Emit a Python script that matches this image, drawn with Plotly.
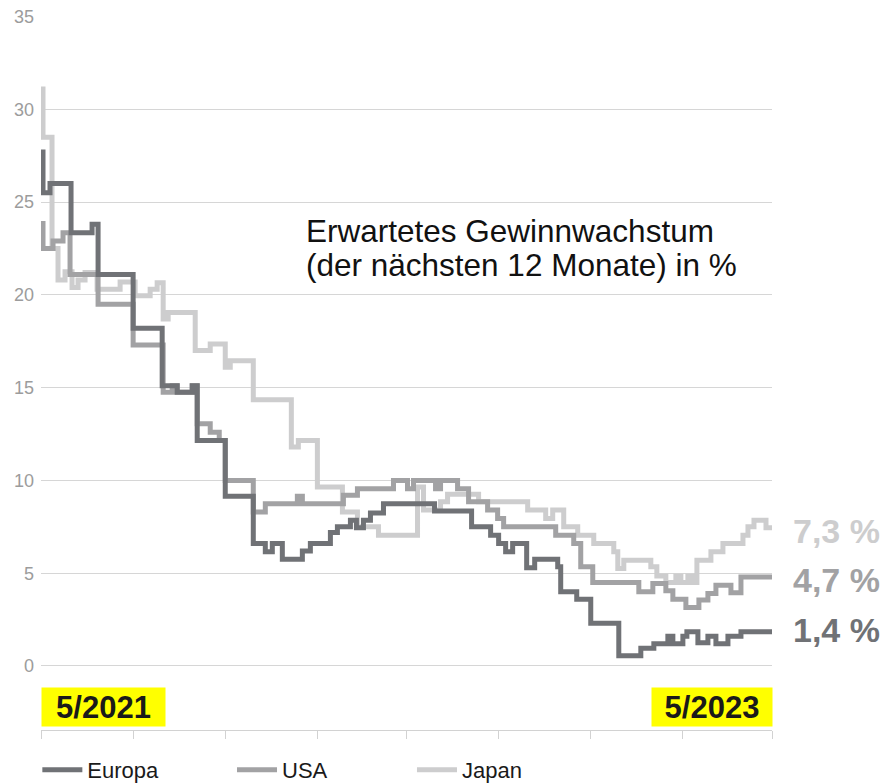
import plotly.graph_objects as go

# ---------------- data ----------------
europa_dates = [
    "2021-05-01", "2021-05-03", "2021-05-10", "2021-05-31", "2021-06-21", "2021-06-27",
    "2021-08-01", "2021-08-30", "2021-09-14", "2021-09-29", "2021-10-04", "2021-11-01",
    "2021-11-29", "2021-12-11", "2021-12-18", "2021-12-28", "2022-01-17", "2022-01-25",
    "2022-02-14", "2022-02-21", "2022-03-06", "2022-03-12", "2022-03-19", "2022-03-26",
    "2022-04-08", "2022-05-29", "2022-07-05", "2022-07-24", "2022-08-01", "2022-08-08",
    "2022-08-15", "2022-08-29", "2022-09-06", "2022-09-29", "2022-10-02", "2022-10-18",
    "2022-11-01", "2022-11-29", "2022-12-21", "2023-01-03", "2023-01-17", "2023-01-22",
    "2023-02-01", "2023-02-05", "2023-02-16", "2023-02-26", "2023-03-06", "2023-03-18",
    "2023-03-31", "2023-05-01",
]
europa_values = [
    27.7, 25.5, 26.0, 23.35, 23.8, 21.1,
    18.2, 15.1, 14.75, 15.1, 12.15, 9.15,
    6.6, 6.15, 6.6, 5.75, 6.2, 6.6,
    7.2, 7.5, 7.85, 7.45, 7.85, 8.25,
    8.75, 8.35, 7.5, 7.05, 6.6, 6.15,
    6.6, 5.3, 5.75, 5.35, 4.0, 3.6,
    2.3, 0.55, 0.95, 1.2, 1.6, 1.2,
    1.6, 1.85, 1.25, 1.6, 1.2, 1.6,
    1.85, 1.85,
]

usa_dates = [
    "2021-05-01", "2021-05-03", "2021-05-13", "2021-05-23", "2021-05-30", "2021-06-27",
    "2021-08-01", "2021-08-31", "2021-09-09", "2021-09-14", "2021-09-29", "2021-10-04",
    "2021-10-17", "2021-10-26", "2021-11-01", "2021-11-29", "2021-12-11", "2022-01-12",
    "2022-01-17", "2022-02-27", "2022-03-13", "2022-04-18", "2022-05-02", "2022-05-08",
    "2022-05-30", "2022-06-04", "2022-06-21", "2022-07-02", "2022-07-21", "2022-07-31",
    "2022-08-06", "2022-09-27", "2022-10-15", "2022-10-22", "2022-11-03", "2022-12-19",
    "2023-01-02", "2023-01-15", "2023-01-22", "2023-02-04", "2023-02-17", "2023-02-26",
    "2023-03-06", "2023-03-21", "2023-03-31", "2023-05-01",
]
usa_values = [
    23.85, 22.5, 22.9, 23.35, 21.1, 19.5,
    17.3, 14.75, 15.1, 14.75, 15.1, 13.05,
    12.6, 12.15, 10.0, 8.3, 8.75, 9.15,
    8.75, 9.2, 9.55, 10.0, 9.55, 10.0,
    9.55, 10.0, 9.55, 8.85, 8.4, 7.95,
    7.5, 7.05, 6.6, 5.35, 4.5, 4.0,
    4.45, 4.05, 3.6, 3.15, 3.55, 3.9,
    4.35, 3.95, 4.8, 4.8,
]

japan_dates = [
    "2021-05-01", "2021-05-03", "2021-05-12", "2021-05-18", "2021-05-25", "2021-06-01",
    "2021-06-07", "2021-06-14", "2021-06-26", "2021-07-19", "2021-08-03", "2021-08-18",
    "2021-08-25", "2021-08-31", "2021-09-05", "2021-10-02", "2021-10-17", "2021-11-01",
    "2021-11-06", "2021-11-29", "2022-01-06", "2022-01-13", "2022-02-01", "2022-02-26",
    "2022-03-13", "2022-04-03", "2022-05-12", "2022-05-18", "2022-06-04", "2022-06-11",
    "2022-07-12", "2022-08-30", "2022-09-17", "2022-09-24", "2022-10-05", "2022-10-19",
    "2022-11-04", "2022-11-24", "2022-11-28", "2022-12-04", "2022-12-31", "2023-01-06",
    "2023-01-15", "2023-01-25", "2023-01-30", "2023-02-06", "2023-02-11", "2023-02-15",
    "2023-03-01", "2023-03-13", "2023-04-02", "2023-04-07", "2023-04-13", "2023-04-25",
    "2023-05-01",
]
japan_values = [
    31.1, 28.5, 22.5, 20.8, 21.25, 20.4,
    20.8, 21.2, 20.3, 20.7, 19.95, 20.3,
    20.65, 18.7, 19.05, 17.0, 17.35, 16.1,
    16.45, 14.35, 11.8, 12.15, 9.65, 8.3,
    7.5, 7.05, 9.65, 8.4, 8.85, 9.25,
    8.85, 8.4, 7.95, 8.4, 7.5, 7.05,
    6.6, 6.15, 5.25, 5.7, 5.35, 4.85,
    4.5, 4.85, 4.5, 4.85, 4.5, 5.7,
    6.15, 6.6, 7.05, 7.5, 7.85, 7.45,
    7.45,
]

series_names = ["Europa", "USA", "Japan"]
end_labels = ["1,4 %", "4,7 %", "7,3 %"]
end_label_y = [1.95, 4.65, 7.3]
y_ticks = [0, 5, 10, 15, 20, 25, 30, 35]
start_label = "5/2021"
end_label = "5/2023"
title_line1 = "Erwartetes Gewinnwachstum"
title_line2 = "(der nächsten 12 Monate) in %"

# ---------------- styling ----------------
colors = {"Europa": "#707276", "USA": "#a2a2a4", "Japan": "#cdcdce"}
FONT = "Liberation Sans, Arial, Helvetica, sans-serif"

fig = go.Figure()
traces = {
    "Europa": (europa_dates, europa_values, "legend"),
    "USA": (usa_dates, usa_values, "legend2"),
    "Japan": (japan_dates, japan_values, "legend3"),
}
for name in ["Japan", "USA", "Europa"]:
    d, v, leg = traces[name]
    fig.add_trace(go.Scatter(
        x=d, y=v, mode="lines", name=name, legend=leg,
        line=dict(color=colors[name], width=5, shape="hv"),
        hoverinfo="skip",
    ))

legend_common = dict(
    orientation="h", xanchor="left", yanchor="middle", y=-0.056,
    font=dict(family=FONT, size=22, color="#1a1a1a"),
    bgcolor="rgba(0,0,0,0)", itemwidth=40, borderwidth=0,
)

# page body adds an 8px offset, so the figure is 880x775 and margins are shifted
fig.update_layout(
    width=880, height=775,
    margin=dict(l=33, r=116, t=8, b=53, autoexpand=False),
    paper_bgcolor="white", plot_bgcolor="white",
    font=dict(family=FONT),
    showlegend=True,
    legend=dict(x=-0.005, **legend_common),
    legend2=dict(x=0.2613, **legend_common),
    legend3=dict(x=0.5075, **legend_common),
    xaxis=dict(
        type="date", range=["2021-05-01", "2023-05-01"], automargin=False,
        showgrid=False, zeroline=False,
        showline=True, linecolor="#d2d2d2", linewidth=1,
        ticks="outside", ticklen=8, tickcolor="#d2d2d2", tickwidth=1,
        tick0="2021-05-01", dtick="M3", showticklabels=False,
    ),
    yaxis=dict(
        range=[-3.45, 35.03], tickvals=y_ticks, automargin=False,
        showgrid=True, gridcolor="#d6d6d6", gridwidth=1,
        zeroline=False, showline=False, ticks="",
        tickfont=dict(family=FONT, size=18, color="#9c9c9c"),
        ticklabelstandoff=6, ticklabeloverflow="allow",
    ),
)

ann = []
ann.append(dict(xref="paper", yref="y", x=0.360, y=23.45, xanchor="left", yanchor="middle",
                text=title_line1, showarrow=False,
                font=dict(family=FONT, size=31.5, color="#111111")))
ann.append(dict(xref="paper", yref="y", x=0.360, y=21.6, xanchor="left", yanchor="middle",
                text=title_line2, showarrow=False,
                font=dict(family=FONT, size=31.5, color="#111111")))
for name, lab, yv in zip(series_names, end_labels, end_label_y):
    ann.append(dict(xref="paper", yref="y", x=1, y=yv, xanchor="left", yanchor="middle",
                    xshift=19, text=lab, showarrow=False,
                    font=dict(family=FONT, size=34, color=colors[name], weight="bold")))
ann.append(dict(xref="paper", yref="paper", x=0, y=0.0322, xanchor="left", yanchor="middle",
                text=start_label, showarrow=False, width=123, height=38, borderpad=0,
                bgcolor="#ffff00", align="center",
                font=dict(family=FONT, size=31, color="#1a1a1a", weight="bold")))
ann.append(dict(xref="paper", yref="paper", x=1, y=0.0322, xanchor="right", yanchor="middle",
                xshift=1, text=end_label, showarrow=False, width=120, height=38, borderpad=0,
                bgcolor="#ffff00", align="center",
                font=dict(family=FONT, size=31, color="#1a1a1a", weight="bold")))
fig.update_layout(annotations=ann)

fig.write_html("out.html")
